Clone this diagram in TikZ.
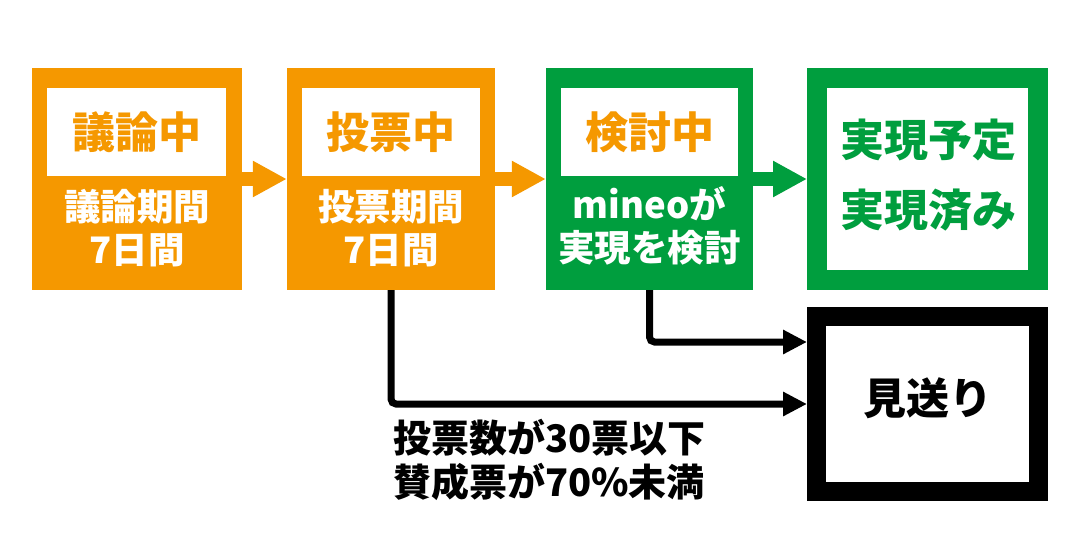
\documentclass[tikz,border=0pt]{standalone}
\usepackage{fontspec}
\setmainfont{Noto Sans CJK JP}
\usetikzlibrary{arrows.meta}
\definecolor{cOrange}{RGB}{245,152,0}
\definecolor{cGreen}{RGB}{0,158,62}
\begin{document}
\begin{tikzpicture}[x=1pt,y=-1pt,
  every node/.style={inner sep=0pt},
  stagebox/.style={minimum height=222pt},
  titlebox/.style={fill=white, minimum height=88pt, text=cOrange,
    font=\bfseries\fontsize{43}{43}\selectfont},
  bodytext/.style={text=white, align=center,
    font=\bfseries\fontsize{36.5}{43}\selectfont},
  flowarrow/.style={line width=14pt, -{Triangle[length=34pt,width=34pt]}},
  noarrow/.style={black, line width=7pt, rounded corners=5pt,
    -{Triangle[length=24pt,width=23pt]}},
  condtext/.style={anchor=west, text=black,
    font=\bfseries\fontsize{38}{38}\selectfont}
]
\useasboundingbox (0,0) rectangle (1080,536);
\fill[white] (0,0) rectangle (1080,536);

% stage boxes
\node[stagebox, fill=cOrange, minimum width=210pt] (b1) at (137,179) {};
\node[stagebox, fill=cOrange, minimum width=208pt] (b2) at (391,179) {};
\node[stagebox, fill=cGreen, minimum width=207pt] (b3) at (649.5,179) {};
\node[draw=cGreen, fill=white, line width=20pt, minimum width=221pt, minimum height=202pt] (b4) at (927.5,179) {};
\node[draw=black, fill=white, line width=19pt, minimum width=222pt, minimum height=175pt] (b5) at (927.5,404) {};

% titles
\node[titlebox, minimum width=179pt] (t1) at (136.5,132) {議論中};
\node[titlebox, minimum width=178pt] (t2) at (391,132) {投票中};
\node[titlebox, minimum width=177pt] (t3) at (649.5,132) {検討中};

% bodies
\node[bodytext] (d1) at (137,228.5) {議論期間\\7日間};
\node[bodytext] (d2) at (391,228.5) {投票期間\\7日間};
\node[bodytext] (d3) at (649.5,226) {mineoが\\実現を検討};
\node[text=cGreen, align=center, font=\bfseries\fontsize{44}{70}\selectfont] (d4) at (928,175) {実現予定\\実現済み};
\node[text=black, font=\bfseries\fontsize{43}{43}\selectfont] (d5) at (927.5,398) {見送り};

% flow arrows
\draw[flowarrow, cOrange] (b1.east) -- (b2.west);
\draw[flowarrow, cOrange] (b2.east) -- (b3.west);
\draw[flowarrow, cGreen] (b3.east) -- (b4.west);

% rejection connectors
\draw[noarrow] (b3.south) |- ([yshift=62pt]b5.west);
\draw[noarrow] (b2.south) |- (b5.west);

% condition text
\node[condtext] (c1) at (393,438) {投票数が30票以下};
\node[condtext] (c2) at (393,482) {賛成票が70\%未満};
\end{tikzpicture}
\end{document}
